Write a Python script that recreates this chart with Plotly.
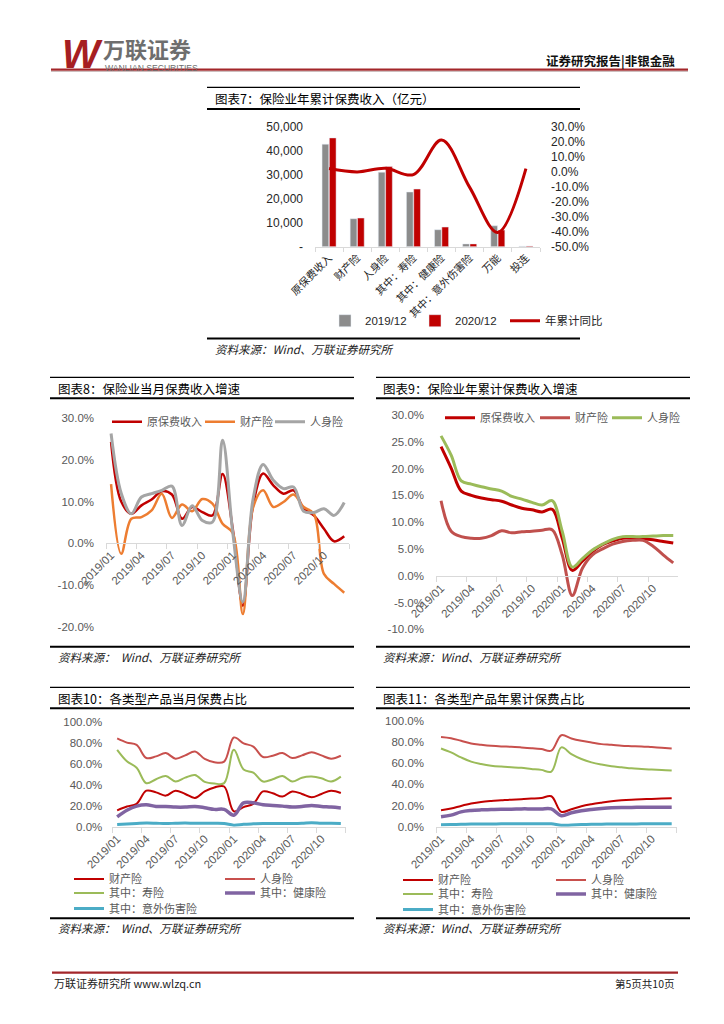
import plotly.graph_objects as go

W, H = 724, 1024
OFF = 8  # the page body has an 8px margin; positions below are page pixels
FONT = "Liberation Sans, Noto Sans CJK SC, sans-serif"
CJK = "Noto Sans CJK SC, sans-serif"

# ---------------- data ----------------
cats7 = ["原保费收入", "财产险", "人身险", "其中：寿险", "其中：健康险", "其中：意外伤害险", "万能", "投连"]
prem2019 = [42645, 11649, 30995, 22754, 7066, 1175, 8700, 180]
prem2020 = [45257, 11929, 33329, 23982, 8173, 1174, 6900, 260]
yoy7 = [2.0, -0.2, 2.2, -2.0, 21.0, -10.5, -40.5, 2.0]
lticks7 = [0, 10000, 20000, 30000, 40000, 50000]
ltext7 = ["-", "10,000", "20,000", "30,000", "40,000", "50,000"]
rticks7 = [30, 20, 10, 0, -10, -20, -30, -40, -50]
rtext7 = ["30.0%", "20.0%", "10.0%", "0.0%", "-10.0%", "-20.0%", "-30.0%", "-40.0%", "-50.0%"]

months = ["2019/01", "2019/02", "2019/03", "2019/04", "2019/05", "2019/06",
          "2019/07", "2019/08", "2019/09", "2019/10", "2019/11", "2019/12",
          "2020/01", "2020/02", "2020/03", "2020/04", "2020/05", "2020/06",
          "2020/07", "2020/08", "2020/09", "2020/10", "2020/11", "2020/12"]

# chart 8: monthly growth (%)
m_total = [24.3, 10.0, 7.1, 9.1, 10.5, 12.5, 11.7, 5.9, 8.7, 7.5, 6.7, 16.6,
           3.5, -14.9, 9.0, 16.7, 13.9, 11.9, 12.7, 8.3, 6.7, 3.5, 0.5, 1.7]
m_prop = [14.2, -2.5, 5.9, 6.3, 7.9, 11.9, 6.1, 9.3, 7.7, 10.6, 9.5, 4.7,
          2.5, -16.9, 8.5, 12.7, 8.7, 9.9, 11.7, 8.7, 7.1, -7.3, -9.7, -11.8]
m_life = [26.3, 12.0, 7.1, 11.1, 11.9, 12.7, 13.7, 4.3, 9.0, 5.5, 5.1, 24.7,
          2.7, -14.0, 10.5, 18.9, 15.1, 13.1, 13.5, 7.7, 7.4, 8.3, 6.7, 9.8]
ticks8 = [30, 20, 10, 0, -10, -20]
text8 = ["30.0%", "20.0%", "10.0%", "0.0%", "-10.0%", "-20.0%"]

# chart 9: cumulative growth (%)
c_total = [24.1, 20.1, 15.8, 15.0, 14.5, 14.2, 13.9, 13.2, 12.6, 12.3, 11.9, 12.4,
           7.0, 1.0, 2.7, 4.5, 5.8, 6.5, 7.0, 7.0, 6.9, 6.7, 6.4, 6.1]
c_prop = [14.0, 8.3, 7.3, 7.0, 7.0, 7.5, 8.4, 8.0, 8.2, 8.3, 8.5, 8.6,
          3.9, -3.7, 1.4, 3.9, 5.0, 5.9, 6.4, 6.6, 6.6, 5.5, 3.9, 2.4]
c_life = [26.1, 22.5, 17.7, 17.1, 16.6, 16.2, 15.8, 14.8, 14.3, 13.7, 13.2, 14.0,
          8.3, 1.6, 3.2, 4.8, 5.9, 6.8, 7.3, 7.3, 7.3, 7.4, 7.5, 7.5]
ticks9 = [30, 25, 20, 15, 10, 5, 0, -5, -10]
text9 = ["30.0%", "25.0%", "20.0%", "15.0%", "10.0%", "5.0%", "0.0%", "-5.0%", "-10.0%"]

# chart 10: monthly share (%)
s10_prop = [15.6, 19.3, 21.8, 34.3, 32.7, 29.6, 34.3, 31.2, 27.4, 33.6, 37.4, 38.3,
            14.6, 18.7, 21.8, 33.6, 31.8, 28.7, 33.6, 31.2, 28.0, 31.2, 34.3, 32.1]
s10_life = [84.1, 80.1, 77.9, 65.4, 67.0, 70.1, 64.8, 67.9, 71.7, 64.5, 61.4, 62.0,
            85.0, 79.4, 76.3, 66.4, 67.6, 70.1, 65.4, 67.9, 71.0, 67.9, 64.8, 67.6]
s10_shou = [73.2, 62.3, 56.1, 41.4, 45.2, 48.3, 43.0, 46.7, 49.2, 42.7, 41.1, 41.5,
            73.2, 54.5, 51.4, 43.0, 45.2, 48.3, 43.0, 46.7, 47.7, 46.1, 43.0, 47.7]
s10_health = [9.3, 15.6, 19.6, 20.9, 19.3, 19.3, 18.7, 18.7, 19.3, 18.1, 16.5, 16.5,
              10.9, 22.7, 22.7, 20.9, 20.2, 19.6, 18.7, 19.3, 20.2, 19.3, 18.7, 17.8]
s10_acc = [2.0, 2.5, 3.0, 3.5, 3.3, 3.0, 3.3, 3.5, 3.2, 3.3, 3.2, 3.0,
           1.5, 2.3, 2.7, 3.0, 3.0, 3.0, 3.0, 3.2, 3.8, 3.3, 3.2, 3.0]

# chart 11: cumulative share (%)
s11_prop = [15.6, 17.1, 19.6, 21.8, 23.4, 24.3, 24.9, 25.5, 25.9, 26.5, 27.1, 28.7,
            14.0, 16.5, 19.3, 21.2, 22.7, 24.0, 24.9, 25.5, 25.9, 26.2, 26.5, 26.8]
s11_life = [84.7, 83.5, 81.0, 78.5, 77.3, 76.3, 75.7, 75.4, 74.8, 74.1, 73.2, 71.7,
            86.3, 83.2, 81.0, 79.4, 77.9, 77.3, 76.3, 76.0, 75.7, 75.1, 74.5, 73.8]
s11_shou = [73.8, 70.1, 65.4, 61.4, 59.2, 57.6, 56.7, 56.1, 55.5, 54.5, 53.6, 52.0,
            74.8, 68.5, 63.9, 60.7, 58.6, 57.0, 56.1, 55.1, 54.5, 53.9, 53.6, 53.0]
s11_health = [9.3, 10.9, 14.0, 15.3, 15.9, 16.2, 16.5, 16.5, 16.8, 16.8, 16.8, 16.8,
              10.3, 13.1, 15.0, 16.2, 17.1, 17.8, 18.1, 18.1, 18.4, 18.4, 18.4, 18.4]
s11_acc = [1.8, 2.0, 2.2, 2.5, 2.6, 2.6, 2.7, 2.7, 2.7, 2.7, 2.7, 2.7,
           1.3, 1.6, 2.0, 2.2, 2.4, 2.5, 2.6, 2.6, 2.7, 2.7, 2.7, 2.7]
ticks10 = [0, 20, 40, 60, 80, 100]
text10 = ["0.0%", "20.0%", "40.0%", "60.0%", "80.0%", "100.0%"]


def X(p):
    return (p - OFF) / W


def Y(p):
    return 1 - (p - OFF) / H


fig = go.Figure()

# ---------- chart 7 ----------
fig.add_bar(x=cats7, y=prem2019, name="2019/12", marker_color="#8C8C8C",
            xaxis="x", yaxis="y", legend="legend", legendwidth=45)
fig.add_bar(x=cats7, y=prem2020, name="2020/12", marker_color="#C00000",
            xaxis="x", yaxis="y", legend="legend", legendwidth=45)
fig.add_scatter(x=cats7, y=yoy7, name="年累计同比", mode="lines",
                line=dict(color="#C00000", width=3, shape="spline"),
                xaxis="x", yaxis="y2", legend="legend", legendwidth=70)

# ---------- chart 8 ----------
fig.add_scatter(x=months, y=m_total, name="原保费收入", mode="lines",
                line=dict(color="#C00000", width=2.5, shape="spline"),
                xaxis="x2", yaxis="y3", legend="legend2", legendwidth=48)
fig.add_scatter(x=months, y=m_prop, name="财产险", mode="lines",
                line=dict(color="#ED7D31", width=2.5, shape="spline"),
                xaxis="x2", yaxis="y3", legend="legend2", legendwidth=25)
fig.add_scatter(x=months, y=m_life, name="人身险", mode="lines",
                line=dict(color="#A5A5A5", width=3, shape="spline"),
                xaxis="x2", yaxis="y3", legend="legend2", legendwidth=45)

# ---------- chart 9 ----------
fig.add_scatter(x=months, y=c_total, name="原保费收入", mode="lines",
                line=dict(color="#C00000", width=3, shape="spline"),
                xaxis="x3", yaxis="y4", legend="legend3", legendwidth=50)
fig.add_scatter(x=months, y=c_prop, name="财产险", mode="lines",
                line=dict(color="#C0504D", width=3, shape="spline"),
                xaxis="x3", yaxis="y4", legend="legend3", legendwidth=27)
fig.add_scatter(x=months, y=c_life, name="人身险", mode="lines",
                line=dict(color="#9BBB59", width=3, shape="spline"),
                xaxis="x3", yaxis="y4", legend="legend3", legendwidth=45)


# ---------- chart 10 & 11 ----------
def share_traces(xa, ya, legs, prop, life, shou, health, acc, lw):
    fig.add_scatter(x=months, y=prop, name="财产险", mode="lines",
                    line=dict(color="#C00000", width=2, shape="spline"),
                    xaxis=xa, yaxis=ya, legend=legs[0], legendwidth=lw)
    fig.add_scatter(x=months, y=life, name="人身险", mode="lines",
                    line=dict(color="#C8504D", width=2, shape="spline"),
                    xaxis=xa, yaxis=ya, legend=legs[0], legendwidth=lw)
    fig.add_scatter(x=months, y=shou, name="其中：寿险", mode="lines",
                    line=dict(color="#9BBB59", width=2, shape="spline"),
                    xaxis=xa, yaxis=ya, legend=legs[1], legendwidth=lw)
    fig.add_scatter(x=months, y=health, name="其中：健康险", mode="lines",
                    line=dict(color="#8064A2", width=3.5, shape="spline"),
                    xaxis=xa, yaxis=ya, legend=legs[1], legendwidth=lw)
    fig.add_scatter(x=months, y=acc, name="其中：意外伤害险", mode="lines",
                    line=dict(color="#4BACC6", width=3, shape="spline"),
                    xaxis=xa, yaxis=ya, legend=legs[2], legendwidth=lw)


share_traces("x4", "y5", ["legend4", "legend5", "legend6"],
             s10_prop, s10_life, s10_shou, s10_health, s10_acc, 106)
share_traces("x5", "y6", ["legend7", "legend8", "legend9"],
             s11_prop, s11_life, s11_shou, s11_health, s11_acc, 108)


# ---------- axes helpers ----------
def yax(dom, rng, tv, tt, anchor, side="left", color="#595959", size=11.5, standoff=10):
    return dict(domain=[Y(dom[1]), Y(dom[0])], range=rng, tickvals=tv, ticktext=tt,
                anchor=anchor, side=side, showgrid=False, zeroline=False, showline=False,
                ticks="", tickfont=dict(family=FONT, size=size, color=color),
                ticklabelstandoff=standoff, fixedrange=True, automargin=False)


def xmon(x0, x1, anchor, position=None):
    d = dict(domain=[X(x0), X(x1)], type="category", range=[-0.5, 23.5],
             tickmode="linear", tick0=0, dtick=3, tickson="boundaries",
             ticks="outside", ticklen=5, tickcolor="#D9D9D9", tickwidth=1,
             showline=True, linecolor="#D9D9D9", linewidth=1, showgrid=False,
             zeroline=False, tickangle=-45, automargin=False,
             tickfont=dict(family=FONT, size=11.5, color="#595959"), fixedrange=True)
    if position is None:
        d["anchor"] = anchor
    else:
        d["anchor"] = "free"
        d["position"] = Y(position)
    return d


def leg(x, y, size=11, color="#595959"):
    return dict(orientation="h", x=X(x), y=Y(y), xanchor="left", yanchor="middle",
                font=dict(family=FONT, size=size, color=color),
                bgcolor="rgba(0,0,0,0)", borderwidth=0, itemwidth=30,
                tracegroupgap=0, traceorder="normal", itemclick=False, itemdoubleclick=False)


layout = dict(
    width=W, height=H, autosize=False,
    margin=dict(l=0, r=0, t=0, b=0, pad=0, autoexpand=False),
    paper_bgcolor="white", plot_bgcolor="rgba(0,0,0,0)",
    showlegend=True, barmode="group", bargap=0.48, bargroupgap=0.08,
    font=dict(family=FONT, size=11, color="#595959"),
    xaxis=dict(domain=[X(315), X(540)], anchor="y", type="category", range=[-0.5, 7.5],
               tickson="boundaries", ticks="outside", ticklen=4, tickcolor="#D9D9D9",
               showline=True, linecolor="#D9D9D9", showgrid=False, zeroline=False,
               tickangle=-45, tickfont=dict(family=CJK, size=10.5, color="#262626"),
               fixedrange=True, automargin=False),
    yaxis=yax([126.5, 246.7], [0, 50000], lticks7, ltext7, "x", color="#262626", size=12, standoff=11),
    yaxis2=dict(overlaying="y", side="right", anchor="x", range=[-50, 30],
                tickvals=rticks7, ticktext=rtext7, showgrid=False, zeroline=False,
                showline=False, ticks="", ticklabelstandoff=10, automargin=False,
                tickfont=dict(family=FONT, size=12, color="#262626"), fixedrange=True),
    xaxis2=xmon(106, 349.3, None, position=543),
    yaxis3=yax([418, 627], [-20, 30], ticks8, text8, "x2", standoff=11),
    xaxis3=xmon(436, 678.3, None, position=576),
    yaxis4=yax([415, 629.3], [-10, 30], ticks9, text9, "x3", standoff=11),
    xaxis4=xmon(112.3, 345.7, "y5"),
    yaxis5=yax([721.7, 826.7], [0, 100], ticks10, text10, "x4", standoff=9),
    xaxis5=xmon(436, 676.7, "y6"),
    yaxis6=yax([720.7, 826.7], [0, 100], ticks10, text10, "x5", standoff=11),
    legend=leg(325, 320.7, size=11.5, color="#262626"),
    legend2=leg(107, 421.7),
    legend3=leg(440, 417.7),
    legend4=leg(69, 879),
    legend5=leg(69, 893),
    legend6=leg(69, 908.5),
    legend7=leg(398, 880),
    legend8=leg(398, 894),
    legend9=leg(398, 909.5),
)
fig.update_layout(**layout)


# ---------- decoration: frames, titles, sources ----------
def hline(x0, x1, y, w, color="#000000"):
    return dict(type="line", xref="paper", yref="paper", x0=X(x0), x1=X(x1),
                y0=Y(y), y1=Y(y), line=dict(color=color, width=w), layer="above")


shapes = [
    hline(51, 688, 69.6, 2.4, "#A3262A"),
    hline(51, 688, 71.4, 0.8, "#B9A3A3"),
    hline(52, 678, 972.7, 2.2, "#A3262A"),
    # chart 7 frame
    hline(207, 580, 87.3, 1.2), hline(207, 580, 109, 2), hline(207, 580, 338.5, 2),
    # chart 8 frame
    hline(50, 354, 377.3, 1.2), hline(50, 354, 398.3, 2), hline(50, 354, 646.7, 2),
    # chart 9 frame
    hline(376, 690, 377.3, 1.2), hline(376, 690, 398.3, 2), hline(376, 690, 646.7, 2),
    # chart 10 frame
    hline(50, 354, 687.3, 1.2), hline(50, 354, 708.3, 2), hline(50, 354, 918.3, 2),
    # chart 11 frame
    hline(376, 690, 687.3, 1.2), hline(376, 690, 708.3, 2), hline(376, 690, 918.3, 2),
]


def txt(x, y, s, size, color="#000000", xanchor="left", family=CJK, angle=0):
    return dict(x=X(x), y=Y(y), xref="paper", yref="paper", text=s, showarrow=False,
                xanchor=xanchor, yanchor="middle", textangle=angle,
                font=dict(family=family, size=size, color=color))


annotations = [
    # header
    txt(60, 54, "<b><i>W</i></b>", 40, "#A61E22", family="Liberation Sans"),
    txt(101, 48, "<b>万联证券</b>", 22, "#6E6E6E"),
    txt(103, 67.6, "WANLIAN SECURITIES", 8.6, "#6E6E6E", family="Liberation Sans"),
    txt(677, 60, "<b>证券研究报告|非银金融</b>", 12.5, "#111111", xanchor="right"),
    # footer
    txt(52, 983, "万联证券研究所 www.wlzq.cn", 11, "#222222"),
    txt(676, 983, "第5页共10页", 10.5, "#222222", xanchor="right"),
    # titles
    txt(213, 98.3, "图表7：保险业年累计保费收入（亿元）", 12.5),
    txt(56, 388.3, "图表8：保险业当月保费收入增速", 12.5),
    txt(381, 388.3, "图表9：保险业年累计保费收入增速", 12.5),
    txt(56, 698.3, "图表10：各类型产品当月保费占比", 12.5),
    txt(381, 698.3, "图表11：各类型产品年累计保费占比", 12.5),
    # sources
    txt(213, 349, "<i>资料来源：Wind、万联证券研究所</i>", 11.5, "#222222"),
    txt(56, 657.3, "<i>资料来源：\u00a0\u00a0Wind、万联证券研究所</i>", 11.5, "#222222"),
    txt(381, 657.3, "<i>资料来源：Wind、万联证券研究所</i>", 11.5, "#222222"),
    txt(56, 928.3, "<i>资料来源：\u00a0\u00a0Wind、万联证券研究所</i>", 11.5, "#222222"),
    txt(381, 928.3, "<i>资料来源：Wind、万联证券研究所</i>", 11.5, "#222222"),
]

fig.update_layout(shapes=shapes, annotations=annotations)
fig.write_html("out.html")
